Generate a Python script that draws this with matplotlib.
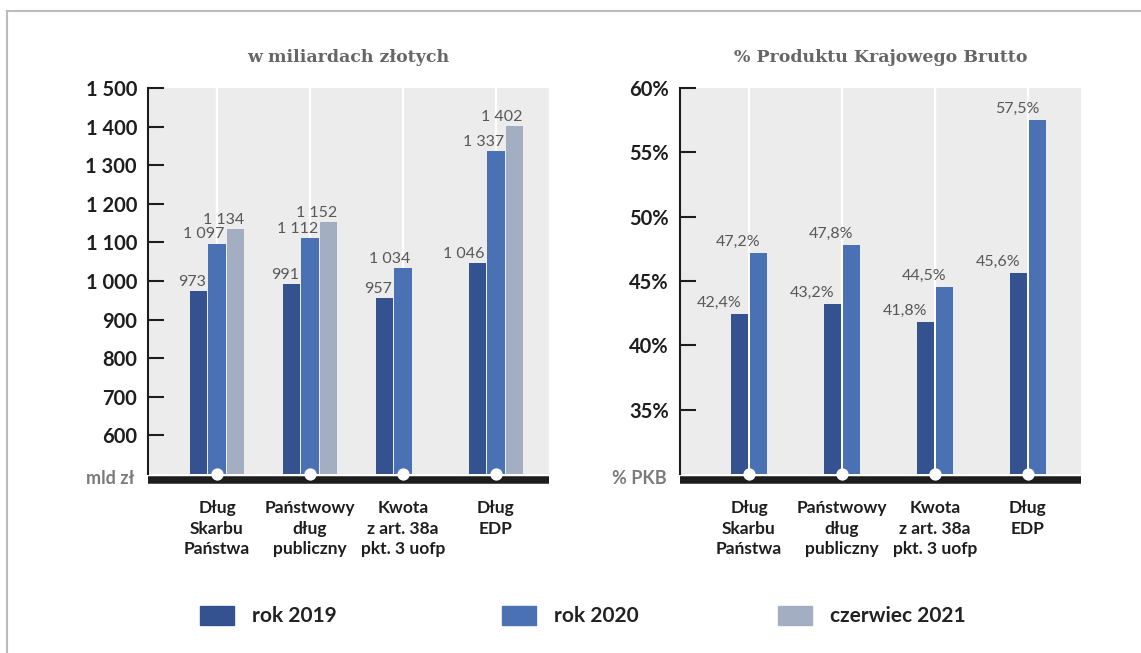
import numpy as np
import matplotlib.pyplot as plt
from matplotlib.patches import Rectangle
from matplotlib.lines import Line2D

# dane
kategorie = ["Dług\nSkarbu\nPaństwa", "Państwowy\ndług\npubliczny",
             "Kwota\nz art. 38a\npkt. 3 uofp", "Dług\nEDP"]
serie = ["rok 2019", "rok 2020", "czerwiec 2021"]
mld_2019 = [973, 991, 957, 1046]
mld_2020 = [1097, 1112, 1034, 1337]
mld_2021 = [1134, 1152, None, 1402]
pkb_2019 = [42.4, 43.2, 41.8, 45.6]
pkb_2020 = [47.2, 47.8, 44.5, 57.5]
ticki_mld = [600, 700, 800, 900, 1000, 1100, 1200, 1300, 1400, 1500]
ticki_pkb = [35, 40, 45, 50, 55, 60]

kolory = ["#33528f", "#4b71b5", "#a3aec3"]
tlo = "#ececec"
czarny = "#1d1d1d"
szary_tekst = "#585858"

W, H = 1141, 653
fig = plt.figure(figsize=(W / 100, H / 100), dpi=100)


def px(x0, y0, w, h):
    return [x0 / W, 1 - (y0 + h) / H, w / W, h / H]


def fmt_mld(v):
    return f"{v:,}".replace(",", " ")


def fmt_pkb(v):
    return f"{v:.1f}%".replace(".", ",")


def przygotuj(ax, tytul, ymin, ymax, ticki, etykiety, jednostka):
    ax.set_facecolor(tlo)
    ax.set_xlim(-0.742, 3.57)
    ax.set_ylim(ymin, ymax)
    x = np.arange(len(kategorie))
    ax.set_xticks(x)
    ax.set_xticklabels([])
    ax.set_yticks(ticki)
    ax.set_yticklabels(etykiety, fontsize=14.5, fontweight="bold",
                       family="Lato", color="#1e1e1e")
    ax.tick_params(axis="x", length=0)
    ax.tick_params(axis="y", direction="in", length=11.5, width=1.5,
                   color=czarny, pad=8)
    ax.grid(axis="x", color="white", linewidth=1.6)
    ax.set_axisbelow(True)
    for s in ["top", "right"]:
        ax.spines[s].set_visible(False)
    ax.spines["left"].set_color(czarny)
    ax.spines["left"].set_linewidth(1.5)
    ax.spines["bottom"].set_color(czarny)
    ax.spines["bottom"].set_linewidth(5.4)
    ax.spines["bottom"].set_position(("outward", 4))
    ax.spines["bottom"].set_capstyle("butt")
    ax.set_title(tytul, fontsize=12.5, fontweight="bold", family="DejaVu Serif",
                 color="#666666", pad=19)
    ax.annotate(jednostka, xy=(0, ymin), xycoords=("axes fraction", "data"),
                xytext=(-9.5, -3.5), textcoords="offset points", ha="right",
                va="center", fontsize=13, fontweight="bold", family="Lato",
                color="#7a7a7a", annotation_clip=False)
    for xi, kat in zip(x, kategorie):
        ax.annotate(kat, xy=(xi, 0), xycoords=("data", "axes fraction"),
                    xytext=(0, -19), textcoords="offset points", ha="center",
                    va="top", multialignment="center", linespacing=1.33,
                    fontsize=12.5, fontweight="bold", family="Lato",
                    color="#1e1e1e", annotation_clip=False)
    ax.scatter(x, [ymin] * len(x), s=78, color="white", zorder=5, clip_on=False,
               linewidths=0)


x = np.arange(len(kategorie))
szer = 0.183
krok = 0.204

# lewy wykres
ax1 = fig.add_axes(px(148, 88, 401, 386))
przygotuj(ax1, "w miliardach złotych", 500, 1500, ticki_mld,
          [fmt_mld(t) for t in ticki_mld], "mld zł")
for i, dane in enumerate([mld_2019, mld_2020, mld_2021]):
    for j, v in enumerate(dane):
        if v is None:
            continue
        xb = x[j] + (i - 1) * krok
        ax1.bar(xb, v, width=szer, color=kolory[i], zorder=3)
        ax1.annotate(fmt_mld(v), xy=(xb + szer / 2, v), xytext=(-0.5, 1.5),
                     textcoords="offset points", ha="right", va="bottom",
                     fontsize=11.5, family="Lato", color=szary_tekst, zorder=4)

# prawy wykres
ax2 = fig.add_axes(px(680, 88, 401, 386))
przygotuj(ax2, "% Produktu Krajowego Brutto", 30, 60, ticki_pkb,
          [f"{t}%" for t in ticki_pkb], "% PKB")
for i, dane in enumerate([pkb_2019, pkb_2020]):
    for j, v in enumerate(dane):
        xb = x[j] + (i - 0.5) * krok
        ax2.bar(xb, v, width=szer, color=kolory[i], zorder=3)
        ax2.annotate(fmt_pkb(v), xy=(xb + szer / 2, v), xytext=(-4.5, 3),
                     textcoords="offset points", ha="right", va="bottom",
                     fontsize=11.5, family="Lato", color=szary_tekst, zorder=4)

# legenda
poz_kw = [200, 502, 778]
for i, nazwa in enumerate(serie):
    fig.patches.append(Rectangle((poz_kw[i] / W, 1 - 625 / H), 34 / W, 19 / H,
                                 transform=fig.transFigure, color=kolory[i]))
    fig.text((poz_kw[i] + 52) / W, 1 - 615.5 / H, nazwa, ha="left", va="center",
             fontsize=15, fontweight="bold", family="Lato", color="#222222")

# ramka
fig.lines.append(Line2D([7 / W, 7 / W], [0, 1 - 11 / H], transform=fig.transFigure,
                        color="#bbbbbb", linewidth=1.5))
fig.lines.append(Line2D([7 / W, 1], [1 - 11 / H, 1 - 11 / H], transform=fig.transFigure,
                        color="#bbbbbb", linewidth=1.5))

plt.savefig("out.png", dpi=100)
